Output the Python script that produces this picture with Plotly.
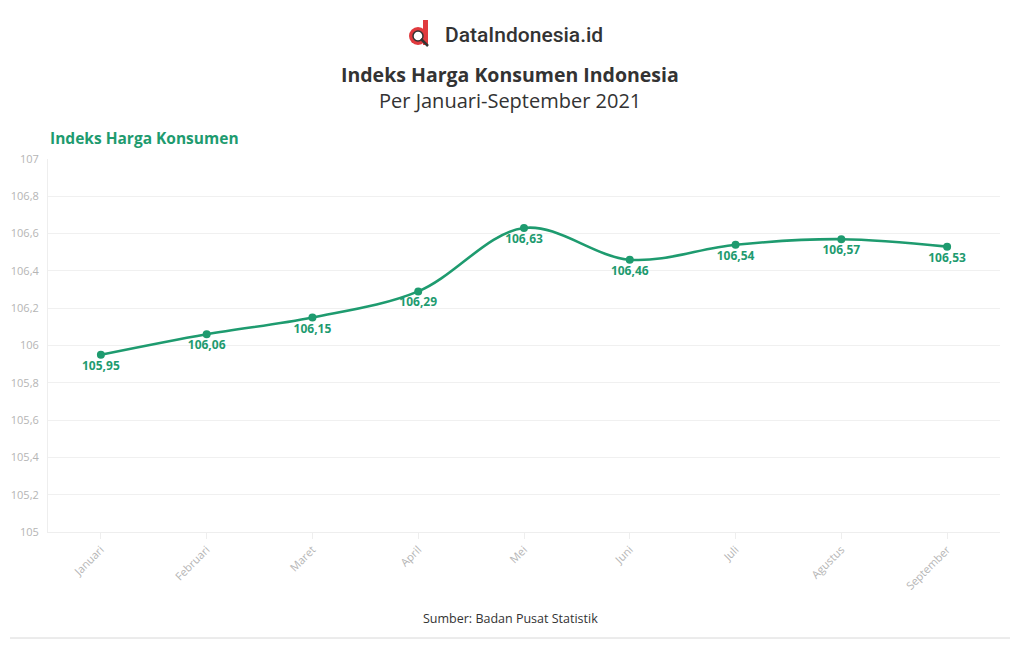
import plotly.graph_objects as go

months = ["Januari", "Februari", "Maret", "April", "Mei", "Juni", "Juli", "Agustus", "September"]
ihk = [105.95, 106.06, 106.15, 106.29, 106.63, 106.46, 106.54, 106.57, 106.53]
y_ticks = [105, 105.2, 105.4, 105.6, 105.8, 106, 106.2, 106.4, 106.6, 106.8, 107]
y_tick_text = ["105", "105,2", "105,4", "105,6", "105,8", "106", "106,2", "106,4", "106,6", "106,8", "107"]
labels = [f"{v:.2f}".replace(".", ",") for v in ihk]

green = "#1e9b6f"
font_main = "Open Sans"

# page offset (body margin) compensation
OFF = 8
W, H = 1020 - OFF, 650 - OFF
ML, MT = 48 - OFF, 159 - OFF
PW, PH = 952, 373
MR = W - ML - PW
MB = H - MT - PH

def xp(px):
    return (px - OFF - ML) / PW

def yp(py):
    return 1 - (py - OFF - MT) / PH

fig = go.Figure()
fig.add_trace(go.Scatter(
    x=months, y=ihk, mode="lines+markers+text",
    line=dict(color=green, width=2.6, shape="spline", smoothing=1.0),
    marker=dict(color=green, size=8),
    text=labels, textposition="bottom center",
    textfont=dict(color=green, size=12, family="Noto Sans", weight="bold"),
    hoverinfo="x+y", showlegend=False, cliponaxis=False,
))

fig.update_layout(
    width=W, height=H,
    margin=dict(l=ML, r=MR, t=MT, b=MB, autoexpand=False),
    paper_bgcolor="white", plot_bgcolor="white",
    font=dict(family=font_main),
    xaxis=dict(
        range=[-0.5, 8.5], tickangle=-45, showgrid=False, automargin=False,
        ticks="outside", ticklen=6, tickcolor="#eeeeee",
        tickfont=dict(size=11, color="#b5b5b5"),
        showline=True, linecolor="#eeeeee", linewidth=1,
    ),
    yaxis=dict(
        range=[105, 107], tickvals=y_ticks, ticktext=y_tick_text, automargin=False,
        showgrid=True, gridcolor="#f0f0f0", zeroline=False,
        tickfont=dict(size=11, color="#b5b5b5"),
        showline=True, linecolor="#eeeeee", linewidth=1,
        ticks="outside", ticklen=6, tickcolor="rgba(0,0,0,0)",
    ),
)

# Logo approximation
fig.add_shape(type="circle", xref="paper", yref="paper",
              x0=xp(409), x1=xp(427), y0=yp(45), y1=yp(27),
              fillcolor="#e03a3e", line=dict(width=0))
fig.add_shape(type="rect", xref="paper", yref="paper",
              x0=xp(423), x1=xp(428), y0=yp(45), y1=yp(20),
              fillcolor="#e03a3e", line=dict(width=0))
fig.add_shape(type="circle", xref="paper", yref="paper",
              x0=xp(413), x1=xp(423), y0=yp(41), y1=yp(31),
              fillcolor="#ffffff", line=dict(color="#333333", width=1.5))
fig.add_shape(type="line", xref="paper", yref="paper",
              x0=xp(421), x1=xp(428), y0=yp(39), y1=yp(46),
              line=dict(color="#333333", width=2.5))

fig.add_annotation(text="DataIndonesia.id", xref="paper", yref="paper",
                   x=xp(443), y=yp(35), xanchor="left", yanchor="middle",
                   showarrow=False, font=dict(family="Roboto", size=21, color="#333333", weight=500))
fig.add_annotation(text="<b>Indeks Harga Konsumen Indonesia</b>", xref="paper", yref="paper",
                   x=xp(510), y=yp(74), xanchor="center", yanchor="middle",
                   showarrow=False, font=dict(family=font_main, size=19.5, color="#333333"))
fig.add_annotation(text="Per Januari-September 2021", xref="paper", yref="paper",
                   x=xp(510), y=yp(100), xanchor="center", yanchor="middle",
                   showarrow=False, font=dict(family=font_main, size=20, color="#333333"))
fig.add_annotation(text="<b>Indeks Harga Konsumen</b>", xref="paper", yref="paper",
                   x=xp(48), y=yp(138), xanchor="left", yanchor="middle",
                   showarrow=False, font=dict(family=font_main, size=15.5, color=green))
fig.add_annotation(text="Sumber: Badan Pusat Statistik", xref="paper", yref="paper",
                   x=xp(510), y=yp(618), xanchor="center", yanchor="middle",
                   showarrow=False, font=dict(family=font_main, size=12.5, color="#333333"))
fig.add_shape(type="line", xref="paper", yref="paper",
              x0=xp(10), x1=xp(1010), y0=yp(638), y1=yp(638),
              line=dict(color="#d8d8d8", width=1))

fig.write_html("out.html")
